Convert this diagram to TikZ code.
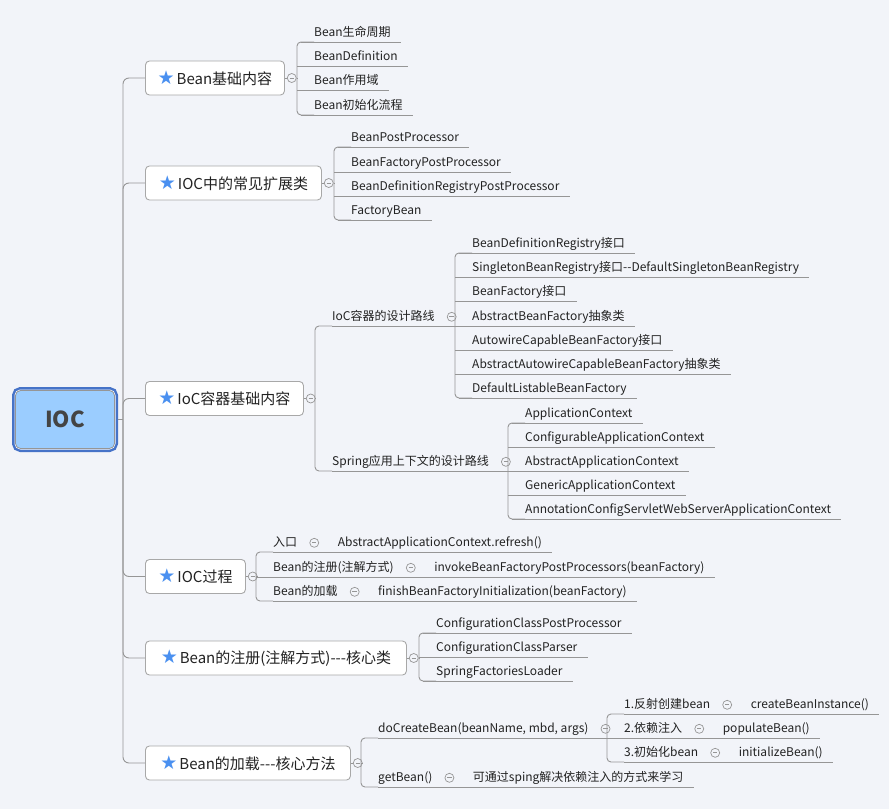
\documentclass[tikz,border=0pt]{standalone}
\usepackage{fontspec}
\setmainfont{Noto Sans CJK SC}
\newfontfamily\symfont{DejaVu Sans}
\usetikzlibrary{positioning}

\definecolor{bgc}{RGB}{242,244,249}
\definecolor{linec}{RGB}{150,150,150}
\definecolor{boxc}{RGB}{168,168,168}
\definecolor{textc}{RGB}{34,34,34}
\definecolor{starc}{RGB}{74,144,240}
\definecolor{rootfill}{RGB}{155,205,255}
\definecolor{rootblue}{RGB}{70,115,200}
\newcommand{\starmark}{{\symfont\fontsize{19}{19}\selectfont\textcolor{starc}{★}}\hspace{2pt}}

\begin{document}
\begin{tikzpicture}[x=1pt,y=-1pt]
  \tikzset{ln/.style={draw=linec, line width=0.9pt}}
  \tikzset{txt/.style={anchor=south west, inner xsep=0pt, inner ysep=1pt, text height=12pt, text depth=4pt, text=textc, font=\fontsize{12}{14}\selectfont}}
  \tikzset{leaf/.style={txt, append after command={([xshift=-17pt]\tikzlastnode.south west) edge[ln] ([xshift=10pt]\tikzlastnode.south east)}}}
  \tikzset{leafend/.style={txt, append after command={([xshift=-13pt]\tikzlastnode.south west) edge[ln] ([xshift=10pt]\tikzlastnode.south east)}}}
  \tikzset{branch/.style={anchor=west, draw=boxc, fill=white, line width=0.9pt, rounded corners=4pt, minimum height=34pt, inner xsep=0pt, text=textc, font=\fontsize{15}{18}\selectfont}}
  \tikzset{coll/.style={circle, draw=linec, fill=bgc, line width=0.7pt, minimum size=9pt, inner sep=0pt,
      path picture={\draw[linec, line width=0.7pt] ([xshift=-2.2pt]path picture bounding box.center) -- ([xshift=2.2pt]path picture bounding box.center);}}}
  \tikzset{rootbox/.style={draw=linec, fill=rootfill, line width=0.8pt, rounded corners=5pt, minimum width=99pt, minimum height=58pt,
      preaction={draw=rootblue, line width=7pt}, preaction={draw=white, line width=2pt},
      text={rgb,255:red,68;green,68;blue,68}, font=\fontsize{22}{24}\selectfont\bfseries}}

  \useasboundingbox (0,0) rectangle (889,809);
  \fill[bgc] (0,0) rectangle (889,809);

  % root and branches
  \node[rootbox] (ioc) at (65,419.5) {IOC};
  \coordinate (trunk) at (123,419.5);

  \node[branch, minimum width=139pt] (b1) at (145,78) {\starmark Bean基础内容};
  \node[branch, minimum width=176pt] (b2) at (145,183) {\starmark IOC中的常见扩展类};
  \node[branch, minimum width=158pt] (b3) at (145,398.5) {\starmark IoC容器基础内容};
  \node[branch, minimum width=100pt] (b4) at (145,576.5) {\starmark IOC过程};
  \node[branch, minimum width=261pt] (b5) at (145,658) {\starmark Bean的注册(注解方式)-{}-{}-核心类};
  \node[branch, minimum width=205pt] (b6) at (145,763) {\starmark Bean的加载-{}-{}-核心方法};

  \node[coll, right=2pt of b1] (c1) {};
  \node[coll, right=2pt of b2] (c2) {};
  \node[coll, right=2pt of b3] (c3) {};
  \node[coll, right=2pt of b4] (c4) {};
  \node[coll, right=2pt of b5] (c5) {};
  \node[coll, right=2pt of b6] (c6) {};

  \draw[ln] ([xshift=3.5pt]ioc.east) -- (trunk);
  \draw[ln, rounded corners=6] (trunk) |- (b1.west);
  \draw[ln, rounded corners=6] (trunk) |- (b2.west);
  \draw[ln, rounded corners=6] (trunk) |- (b3.west);
  \draw[ln, rounded corners=6] (trunk) |- (b4.west);
  \draw[ln, rounded corners=6] (trunk) |- (b5.west);
  \draw[ln, rounded corners=6] (trunk) |- (b6.west);
  \draw[ln] (b1.east) -- (c1.west);
  \draw[ln] (b2.east) -- (c2.west);
  \draw[ln] (b3.east) -- (c3.west);
  \draw[ln] (b4.east) -- (c4.west);
  \draw[ln] (b5.east) -- (c5.west);
  \draw[ln] (b6.east) -- (c6.west);

  % Bean基础内容
  \coordinate (v1) at (297,78);
  \node[leafend] (g1a) at (314,42) {Bean生命周期};
  \node[leaf] (g1b) at (314,66) {BeanDefinition};
  \node[leaf] (g1c) at (314,90) {Bean作用域};
  \node[leafend] (g1d) at (314,115) {Bean初始化流程};
  \draw[ln] (c1.east) -- (v1);
  \draw[ln, rounded corners=4] (g1a.south west) -| (v1) |- (g1d.south west);

  % IOC中的常见扩展类
  \coordinate (v2) at (334,183);
  \node[leafend] (g2a) at (351,147) {BeanPostProcessor};
  \node[leaf] (g2b) at (351,172) {BeanFactoryPostProcessor};
  \node[leaf] (g2c) at (351,196) {BeanDefinitionRegistryPostProcessor};
  \node[leafend] (g2d) at (351,220) {FactoryBean};
  \draw[ln] (c2.east) -- (v2);
  \draw[ln, rounded corners=4] (g2a.south west) -| (v2) |- (g2d.south west);

  % IoC容器基础内容
  \coordinate (v3) at (315,398.5);
  \coordinate (v3a) at (455,326);
  \coordinate (v3b) at (508,471);
  \node[txt] (m1) at (332,326) {IoC容器的设计路线};
  \node[txt] (m2) at (332,471) {Spring应用上下文的设计路线};
  \node[coll, right=12pt of m1] (c3a) {};
  \node[coll, right=12pt of m2] (c3b) {};
  \draw[ln] (c3.east) -- (v3);
  \draw[ln, rounded corners=4] (m1.south west) -| (v3) |- (m2.south west);
  \draw[ln] (m1.south west) -- (v3a);
  \draw[ln] (m2.south west) -- (v3b);

  \node[leafend] (g3a) at (472,253) {BeanDefinitionRegistry接口};
  \node[leaf] (g3b) at (472,277) {SingletonBeanRegistry接口-{}-DefaultSingletonBeanRegistry};
  \node[leaf] (g3c) at (472,301) {BeanFactory接口};
  \node[leaf] (g3d) at (472,326) {AbstractBeanFactory抽象类};
  \node[leaf] (g3e) at (472,350) {AutowireCapableBeanFactory接口};
  \node[leaf] (g3f) at (472,374) {AbstractAutowireCapableBeanFactory抽象类};
  \node[leafend] (g3g) at (472,398) {DefaultListableBeanFactory};
  \draw[ln, rounded corners=4] (g3a.south west) -| (v3a) |- (g3g.south west);

  \node[leafend] (g3h) at (525,423) {ApplicationContext};
  \node[leaf] (g3i) at (525,447) {ConfigurableApplicationContext};
  \node[leaf] (g3j) at (525,471) {AbstractApplicationContext};
  \node[leaf] (g3k) at (525,495) {GenericApplicationContext};
  \node[leafend] (g3l) at (525,519) {AnnotationConfigServletWebServerApplicationContext};
  \draw[ln, rounded corners=4] (g3h.south west) -| (v3b) |- (g3l.south west);

  % IOC过程
  \coordinate (v4) at (256,576.5);
  \node[txt] (r41) at (273,552) {入口};
  \node[txt] (r42) at (273,577) {Bean的注册(注解方式)};
  \node[txt] (r43) at (273,601) {Bean的加载};
  \node[coll, right=12pt of r41] (c41) {};
  \node[coll, right=12pt of r42] (c42) {};
  \node[coll, right=12pt of r43] (c43) {};
  \node[txt, right=18.5pt of c41] (r41c) {AbstractApplicationContext.refresh()};
  \node[txt, right=18.5pt of c42] (r42c) {invokeBeanFactoryPostProcessors(beanFactory)};
  \node[txt, right=18.5pt of c43] (r43c) {finishBeanFactoryInitialization(beanFactory)};
  \draw[ln] (c4.east) -- (v4);
  \draw[ln, rounded corners=4] (r41.south west) -| (v4) |- (r43.south west);
  \draw[ln] (r41.south west) -- ([xshift=10pt]r41c.south east);
  \draw[ln] (v4 |- r42.south) -- ([xshift=10pt]r42c.south east);
  \draw[ln] (r43.south west) -- ([xshift=10pt]r43c.south east);

  % Bean的注册(注解方式)---核心类
  \coordinate (v5) at (419,658);
  \node[leafend] (g5a) at (436,633) {ConfigurationClassPostProcessor};
  \node[leaf] (g5b) at (436,657) {ConfigurationClassParser};
  \node[leafend] (g5c) at (436,681) {SpringFactoriesLoader};
  \draw[ln] (c5.east) -- (v5);
  \draw[ln, rounded corners=4] (g5a.south west) -| (v5) |- (g5c.south west);

  % Bean的加载---核心方法
  \coordinate (v6) at (361,763);
  \coordinate (v6a) at (607,738);
  \node[txt] (r61) at (378,738) {doCreateBean(beanName, mbd, args)};
  \node[txt] (r62) at (378,787) {getBean()};
  \node[coll, right=12pt of r61] (c61) {};
  \node[coll, right=12pt of r62] (c62) {};
  \node[txt, right=18.5pt of c62] (r62c) {可通过sping解决依赖注入的方式来学习};
  \draw[ln] (c6.east) -- (v6);
  \draw[ln, rounded corners=4] (r61.south west) -| (v6) |- (r62.south west);
  \draw[ln] (r61.south west) -- (v6a);
  \draw[ln] (r62.south west) -- ([xshift=10pt]r62c.south east);

  \node[txt] (r63) at (624,714) {1.反射创建bean};
  \node[txt] (r64) at (624,738) {2.依赖注入};
  \node[txt] (r65) at (624,762) {3.初始化bean};
  \node[coll, right=12pt of r63] (c63) {};
  \node[coll, right=12pt of r64] (c64) {};
  \node[coll, right=12pt of r65] (c65) {};
  \node[txt, right=18.5pt of c63] (r63c) {createBeanInstance()};
  \node[txt, right=18.5pt of c64] (r64c) {populateBean()};
  \node[txt, right=18.5pt of c65] (r65c) {initializeBean()};
  \draw[ln, rounded corners=4] (r63.south west) -| (v6a) |- (r65.south west);
  \draw[ln] (r63.south west) -- ([xshift=10pt]r63c.south east);
  \draw[ln] (v6a |- r64.south) -- ([xshift=10pt]r64c.south east);
  \draw[ln] (r65.south west) -- ([xshift=10pt]r65c.south east);
\end{tikzpicture}
\end{document}
